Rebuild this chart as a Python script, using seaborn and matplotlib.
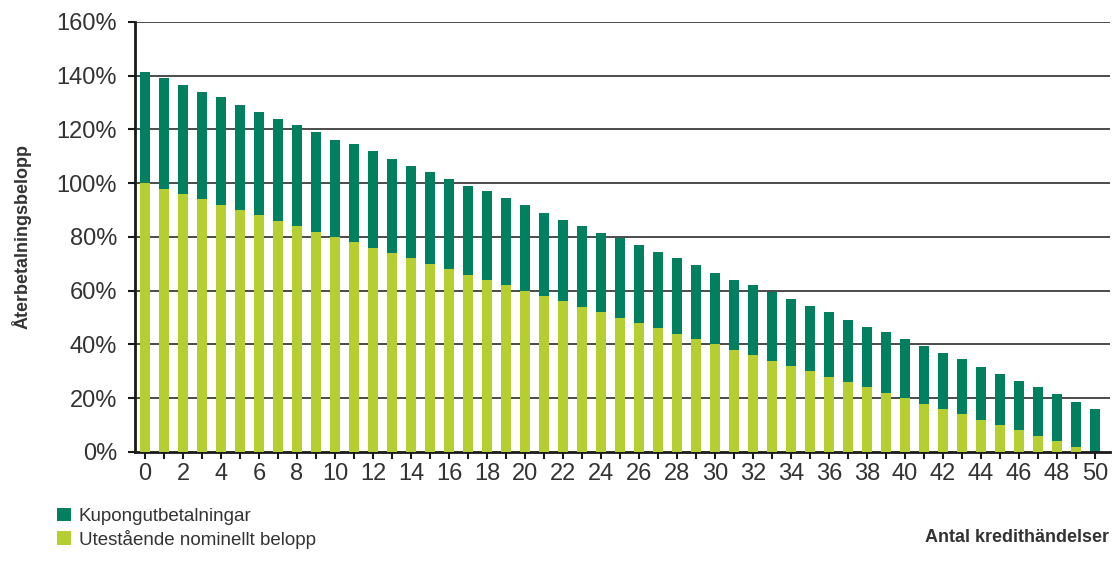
import matplotlib
matplotlib.use("Agg")
import matplotlib.pyplot as plt
import seaborn as sns
import pandas as pd
from matplotlib.patches import Patch

events = list(range(51))
nominal = [100, 98, 96, 94, 92, 90, 88, 86, 84, 82, 80, 78, 76, 74, 72, 70, 68, 66, 64, 62,
           60, 58, 56, 54, 52, 50, 48, 46, 44, 42, 40, 38, 36, 34, 32, 30, 28, 26, 24, 22,
           20, 18, 16, 14, 12, 10, 8, 6, 4, 2, 0]
coupon = [41.5, 41, 40.5, 40, 40, 39, 38.5, 38, 37.5, 37, 36, 36.5, 36, 35, 34.5, 34, 33.5, 33, 33, 32.5,
          32, 31, 30.5, 30, 29.5, 29.5, 29, 28.5, 28, 27.5, 26.5, 26, 26, 25.5, 25, 24.5, 24, 23, 22.5, 22.5,
          22, 21.5, 21, 20.5, 19.5, 19, 18.5, 18, 17.5, 16.5, 16]
total = [n + c for n, c in zip(nominal, coupon)]

series_names = ["Kupongutbetalningar", "Utestående nominellt belopp"]
ylabel = "Återbetalningsbelopp"
xlabel = "Antal kredithändelser"
yticks = [0, 20, 40, 60, 80, 100, 120, 140, 160]

dark = "#00805F"
light = "#B5CE32"
txt = "#333333"

sns.set_theme(style="white")
plt.rcParams["font.family"] = ["Liberation Sans", "DejaVu Sans"]

df = pd.DataFrame({"event": events, "nominal": nominal, "total": total})

fig = plt.figure(figsize=(11.12, 5.78), dpi=100)
ax = fig.add_axes([0.1214, 0.218, 0.877, 0.744])

for y in yticks[1:]:
    ax.axhline(y, color="#1a1a1a", lw=1.1, zorder=0)

sns.barplot(data=df, x="event", y="total", color=dark, width=0.5, saturation=1,
            linewidth=0, ax=ax, zorder=2)
sns.barplot(data=df, x="event", y="nominal", color=light, width=0.5, saturation=1,
            linewidth=0, ax=ax, zorder=3)

ax.set_xlim(-0.53, 50.8)
ax.set_ylim(0, 160)
ax.set_yticks(yticks)
ax.set_yticklabels([f"{v}%" for v in yticks], fontsize=17, color=txt)
ax.set_xticks(events)
ax.set_xticklabels([str(e) if e % 2 == 0 else "" for e in events], fontsize=17, color=txt)
ax.tick_params(axis="both", direction="out", length=5, width=1.5, color="#1a1a1a",
               bottom=True, left=True)
ax.tick_params(axis="y", pad=8)
ax.tick_params(axis="x", pad=3)
ax.set_xlabel("")
ax.set_ylabel(ylabel, fontsize=13, fontweight="bold", color=txt, labelpad=18)
for s in ["top", "right"]:
    ax.spines[s].set_visible(False)
for s in ["left", "bottom"]:
    ax.spines[s].set_color("#1a1a1a")
    ax.spines[s].set_linewidth(2)

fig.text(0.997, 0.07, xlabel, ha="right", va="center", fontsize=13, fontweight="bold", color=txt)

handles = [Patch(facecolor=dark, edgecolor="none", label=series_names[0]),
           Patch(facecolor=light, edgecolor="none", label=series_names[1])]
fig.legend(handles=handles, loc="upper left", bbox_to_anchor=(0.043, 0.138), frameon=False,
           fontsize=13.5, handlelength=0.75, handleheight=0.75, handletextpad=0.4,
           labelspacing=0.25, borderpad=0, labelcolor=txt)

fig.savefig("out.png", dpi=100)
